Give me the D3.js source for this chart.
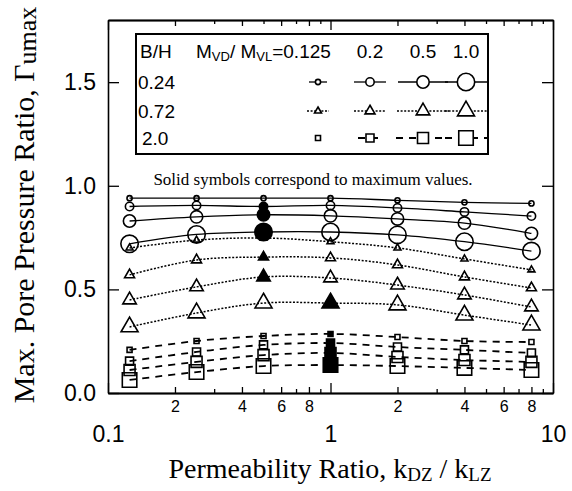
<!DOCTYPE html>
<html>
<head>
<meta charset="utf-8">
<script src="https://cdn.jsdelivr.net/npm/d3@7"></script>
<style>
  body { margin: 0; background: #fff; }
</style>
</head>
<body>
<script>
const width = 572;
const height = 491;
const margin = { top: 20, right: 19, bottom: 98, left: 108 };

const xDomain = [0.1, 10];
const yDomain = [0, 1.8];
const yTicks = [0, 0.5, 1.0, 1.5];
const xMajor = [0.1, 1, 10];
const xMinorLabels = [2, 4, 6, 8];

// permeability ratio kDZ / kLZ
const ratios = [0.125, 0.25, 0.5, 1, 2, 4, 8];
const mvdLabels = ["0.125", "0.2", "0.5", "1.0"];
const bhLabels = ["0.24", "0.72", "2.0"];

// B/H = 0.24 (circles)
const bh024_m0125 = [0.94, 0.94, 0.94, 0.94, 0.93, 0.92, 0.915];
const bh024_m02 = [0.9, 0.905, 0.9, 0.905, 0.893, 0.874, 0.854];
const bh024_m05 = [0.83, 0.85, 0.86, 0.855, 0.84, 0.82, 0.77];
const bh024_m10 = [0.72, 0.765, 0.777, 0.777, 0.763, 0.73, 0.685];
// B/H = 0.72 (triangles)
const bh072_m0125 = [0.7, 0.738, 0.748, 0.73, 0.7, 0.647, 0.594];
const bh072_m02 = [0.57, 0.642, 0.656, 0.652, 0.618, 0.56, 0.507];
const bh072_m05 = [0.449, 0.512, 0.56, 0.555, 0.521, 0.473, 0.415];
const bh072_m10 = [0.319, 0.386, 0.434, 0.434, 0.425, 0.376, 0.328];
// B/H = 2.0 (squares)
const bh20_m0125 = [0.208, 0.251, 0.275, 0.285, 0.27, 0.251, 0.246];
const bh20_m02 = [0.154, 0.198, 0.232, 0.241, 0.222, 0.208, 0.193];
const bh20_m05 = [0.111, 0.15, 0.183, 0.193, 0.174, 0.159, 0.15];
const bh20_m10 = [0.063, 0.101, 0.13, 0.135, 0.13, 0.121, 0.111];

// index of the solid (maximum) point in each series, -1 = none
const solidCirc = [-1, 2, 2, 2];
const solidTri = [2, 2, 2, 3];
const solidSq = [3, 3, 3, 3];

// symbol sizes (area) for M = 0.125, 0.2, 0.5, 1.0
const circSizes = [21, 55, 121, 238];
const triSizes = [21, 43, 79, 125];
const sqSizes = [25, 64, 121, 210];

const groups = [
  { bh: bhLabels[0], symbol: d3.symbolCircle, sizes: circSizes, dash: null, sw: 1.3,
    series: [bh024_m0125, bh024_m02, bh024_m05, bh024_m10], solid: solidCirc },
  { bh: bhLabels[1], symbol: d3.symbolTriangle, sizes: triSizes, dash: "2,1.6", sw: 1.5,
    series: [bh072_m0125, bh072_m02, bh072_m05, bh072_m10], solid: solidTri },
  { bh: bhLabels[2], symbol: d3.symbolSquare, sizes: sqSizes, dash: "7,6", sw: 1.8,
    series: [bh20_m0125, bh20_m02, bh20_m05, bh20_m10], solid: solidSq },
];

const sans = "Liberation Sans, Arial, Helvetica, sans-serif";
const serif = "Liberation Serif, Times New Roman, serif";

const svg = d3.select("body").append("svg")
  .attr("width", width)
  .attr("height", height)
  .style("font-family", sans);

const x = d3.scaleLog().domain(xDomain).range([margin.left, width - margin.right]);
const y = d3.scaleLinear().domain(yDomain).range([height - margin.bottom, margin.top]);

// ---- axes ----
const leadDigit = (d) => Math.round(d / 10 ** Math.floor(Math.log10(d) + 1e-9));
const minorVals = x.ticks().filter((d) => !xMajor.some((m) => Math.abs(m - d) < 1e-9));
const labeledMinor = minorVals.filter((d) => xMinorLabels.includes(leadDigit(d)));
const plainMinor = minorVals.filter((d) => !xMinorLabels.includes(leadDigit(d)));

const bottomY = height - margin.bottom;

function styleAxis(g, fs) {
  g.select(".domain").attr("stroke-width", 1.6);
  g.selectAll(".tick line").attr("stroke-width", 1.3);
  g.selectAll("text").attr("font-size", fs).attr("font-family", sans).attr("fill", "#000");
}

svg.append("g").attr("transform", `translate(0,${bottomY})`)
  .call(d3.axisBottom(x).tickValues(xMajor).tickSize(-10).tickSizeOuter(0).tickPadding(33)
    .tickFormat((d) => String(d)))
  .call((g) => styleAxis(g, 23));
svg.append("g").attr("transform", `translate(0,${bottomY})`)
  .call(d3.axisBottom(x).tickValues(labeledMinor).tickSize(-6).tickSizeOuter(0).tickPadding(8)
    .tickFormat(leadDigit))
  .call((g) => styleAxis(g, 16));
svg.append("g").attr("transform", `translate(0,${bottomY})`)
  .call(d3.axisBottom(x).tickValues(plainMinor).tickSize(-4).tickSizeOuter(0).tickFormat(""))
  .call((g) => styleAxis(g, 16));

svg.append("g").attr("transform", `translate(0,${margin.top})`)
  .call(d3.axisTop(x).tickValues(xMajor).tickSize(-10).tickSizeOuter(0).tickFormat(""))
  .call((g) => styleAxis(g, 16));
svg.append("g").attr("transform", `translate(0,${margin.top})`)
  .call(d3.axisTop(x).tickValues(labeledMinor).tickSize(-6).tickSizeOuter(0).tickFormat(""))
  .call((g) => styleAxis(g, 16));
svg.append("g").attr("transform", `translate(0,${margin.top})`)
  .call(d3.axisTop(x).tickValues(plainMinor).tickSize(-4).tickSizeOuter(0).tickFormat(""))
  .call((g) => styleAxis(g, 16));

svg.append("g").attr("transform", `translate(${margin.left},0)`)
  .call(d3.axisLeft(y).tickValues(yTicks).tickSize(-11).tickSizeOuter(0).tickPadding(12)
    .tickFormat(d3.format(".1f")))
  .call((g) => styleAxis(g, 23));
svg.append("g").attr("transform", `translate(${width - margin.right},0)`)
  .call(d3.axisRight(y).tickValues(yTicks).tickSize(-11).tickSizeOuter(0).tickFormat(""))
  .call((g) => styleAxis(g, 23));

// ---- axis titles ----
const xt = svg.append("text")
  .attr("x", 330).attr("y", 478)
  .attr("text-anchor", "middle")
  .attr("font-family", serif).attr("font-size", 28);
xt.append("tspan").text("Permeability Ratio, k");
xt.append("tspan").attr("font-size", 19).attr("dy", 3).text("DZ");
xt.append("tspan").attr("dy", -3).text(" / k");
xt.append("tspan").attr("font-size", 19).attr("dy", 3).text("LZ");

const yt = svg.append("text")
  .attr("transform", "translate(34,205) rotate(-90)")
  .attr("text-anchor", "middle")
  .attr("font-family", serif).attr("font-size", 30);
yt.append("tspan").text("Max. Pore Pressure Ratio, Γ");
yt.append("tspan").attr("font-size", 26).attr("dy", 2).text("umax");

// ---- data ----
const plot = svg.append("g");
const line = d3.line()
  .x((d) => x(d.r))
  .y((d) => y(d.v))
  .curve(d3.curveCatmullRom);

groups.forEach((grp) => {
  grp.series.forEach((vals, i) => {
    const pts = ratios.map((r, k) => ({ r, v: vals[k], solid: grp.solid[i] === k }));
    plot.append("path")
      .datum(pts)
      .attr("d", line)
      .attr("fill", "none")
      .attr("stroke", "#000")
      .attr("stroke-width", grp.sw)
      .attr("stroke-dasharray", grp.dash);
    plot.selectAll(null)
      .data(pts)
      .join("path")
      .attr("transform", (d) => `translate(${x(d.r)},${y(d.v)})`)
      .attr("d", d3.symbol(grp.symbol, grp.sizes[i]))
      .attr("fill", (d) => (d.solid ? "#000" : "none"))
      .attr("stroke", "#000")
      .attr("stroke-width", 1.6);
  });
});

// ---- legend ----
const legend = svg.append("g");
legend.append("rect")
  .attr("x", 136).attr("y", 34).attr("width", 352).attr("height", 120)
  .attr("fill", "#fff").attr("stroke", "#000").attr("stroke-width", 2);

const colX = [318, 370, 423, 466];
const rowY = [82, 111, 138];
const segHalf = [
  [9, 16, 25, 21],
  [11, 16, 26, 21],
  [0, 12, 27, 21],
];

legend.append("text").attr("x", 140).attr("y", 58).attr("font-size", 19).text("B/H");
const hdr = legend.append("text").attr("x", 196).attr("y", 58).attr("font-size", 19);
hdr.append("tspan").text("M");
hdr.append("tspan").attr("font-size", 13).attr("dy", 3).text("VD");
hdr.append("tspan").attr("dy", -3).text("/ M");
hdr.append("tspan").attr("font-size", 13).attr("dy", 3).text("VL");
hdr.append("tspan").attr("dy", -3).text("=" + mvdLabels[0]);
mvdLabels.slice(1).forEach((lab, i) => {
  legend.append("text")
    .attr("x", colX[i + 1]).attr("y", 58)
    .attr("text-anchor", "middle").attr("font-size", 19)
    .text(lab);
});

groups.forEach((grp, gi) => {
  legend.append("text")
    .attr("x", gi === 2 ? 142 : 138).attr("y", rowY[gi]).attr("dy", "0.35em")
    .attr("font-size", 19)
    .text(grp.bh);
  colX.forEach((cx, i) => {
    const h = segHalf[gi][i];
    if (h > 0) {
      legend.append("line")
        .attr("x1", cx - h).attr("x2", cx + h)
        .attr("y1", rowY[gi]).attr("y2", rowY[gi])
        .attr("stroke", "#000").attr("stroke-width", grp.sw)
        .attr("stroke-dasharray", grp.dash);
    }
    legend.append("path")
      .attr("transform", `translate(${cx},${rowY[gi]})`)
      .attr("d", d3.symbol(grp.symbol, grp.sizes[i]))
      .attr("fill", "#fff")
      .attr("stroke", "#000")
      .attr("stroke-width", 1.6);
  });
});

svg.append("text")
  .attr("x", 313).attr("y", 185)
  .attr("text-anchor", "middle")
  .attr("font-family", serif).attr("font-size", 17)
  .text("Solid symbols correspond to maximum values.");
</script>
</body>
</html>
